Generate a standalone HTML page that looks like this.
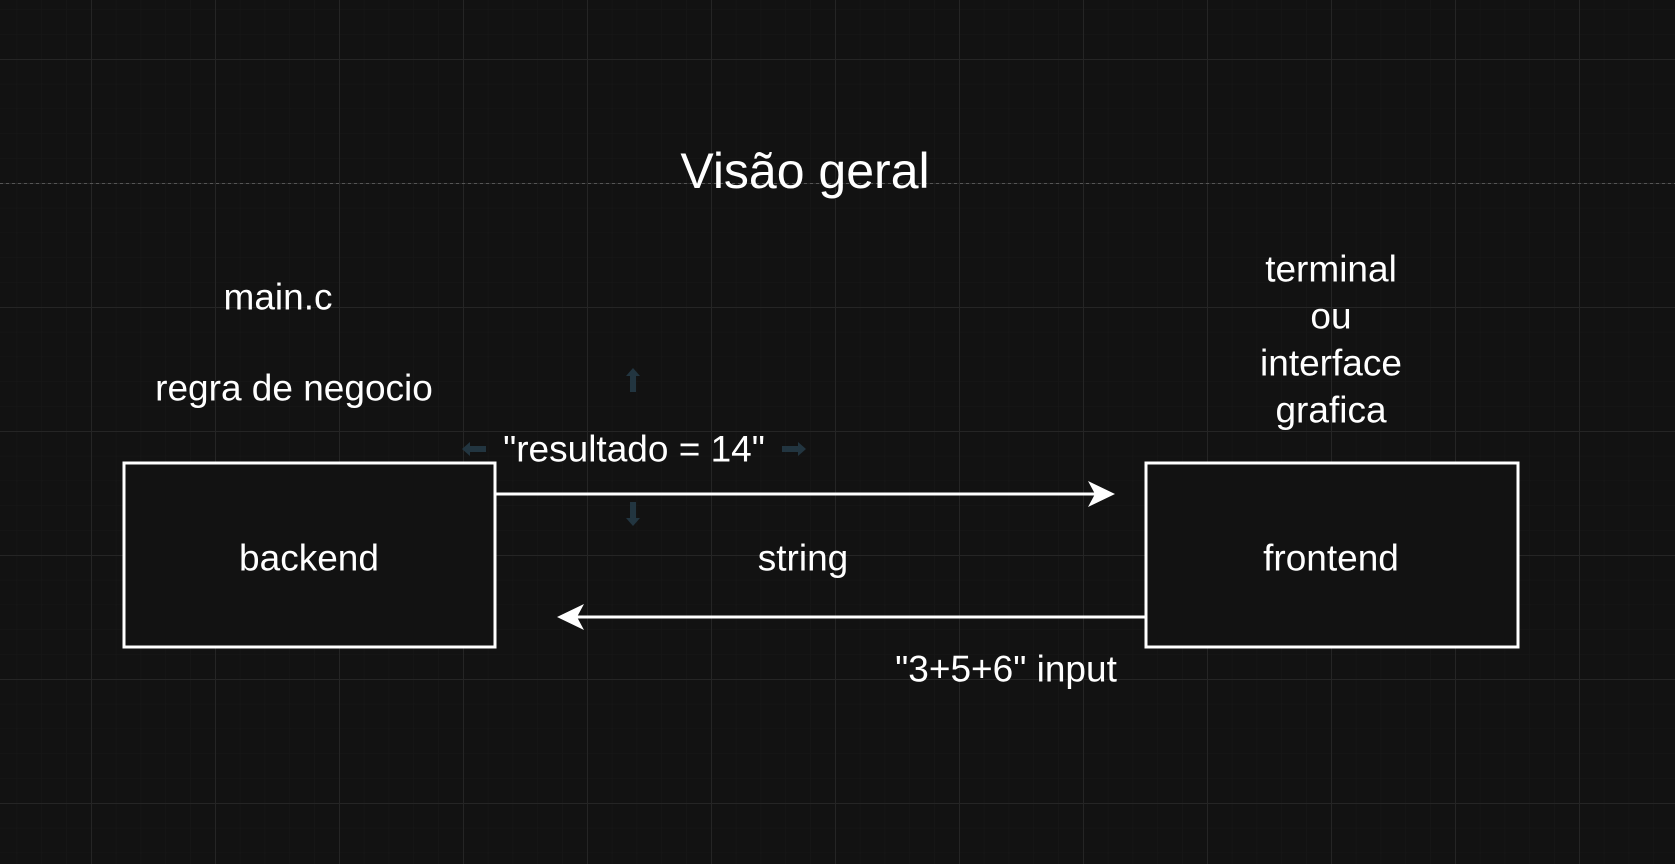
<!DOCTYPE html>
<html><head><style>
body{margin:0;background:#121212;width:1675px;height:864px;overflow:hidden;}
svg{display:block}
text{font-family:"Liberation Sans",Arial,sans-serif;fill:#fff;text-anchor:middle;dominant-baseline:central}
</style></head><body>
<svg width="1675" height="864" viewBox="0 0 1675 864">
<defs>
<pattern id="minor" x="91" y="59" width="24.8" height="24.8" patternUnits="userSpaceOnUse">
<path d="M0 0H24.8M0 0V24.8" stroke="#181818" stroke-width="1" fill="none"/>
</pattern>
<pattern id="major" x="91" y="59" width="124" height="124" patternUnits="userSpaceOnUse">
<path d="M0 0.5H124M0.5 0V124" stroke="#252525" stroke-width="1" fill="none"/>
</pattern>
</defs>
<rect width="1675" height="864" fill="url(#minor)"/>
<rect width="1675" height="864" fill="url(#major)"/>
<line x1="0" y1="183.5" x2="1675" y2="183.5" stroke="#555" stroke-dasharray="3,3"/>
<text x="805" y="171" font-size="50">Visão geral</text>
<text x="278" y="297" font-size="37">main.c</text>
<text x="294" y="388" font-size="37">regra de negocio</text>
<text x="1331" y="269" font-size="37">terminal</text>
<text x="1331" y="316" font-size="37">ou</text>
<text x="1331" y="363" font-size="37">interface</text>
<text x="1331" y="410" font-size="37">grafica</text>
<rect x="124" y="463" width="371" height="184" fill="#121212" stroke="#fff" stroke-width="3"/>
<rect x="1146" y="463" width="372" height="184" fill="#121212" stroke="#fff" stroke-width="3"/>
<text x="309" y="558" font-size="37">backend</text>
<text x="1331" y="558" font-size="37">frontend</text>
<text x="803" y="558" font-size="37">string</text>
<line x1="496" y1="494" x2="1105" y2="494" stroke="#fff" stroke-width="3"/>
<path d="M1088 481 L1115 494 L1088 507 L1095 494 Z" fill="#fff"/>
<line x1="1146" y1="617" x2="567" y2="617" stroke="#fff" stroke-width="3"/>
<path d="M584 604 L557 617 L584 630 L577 617 Z" fill="#fff"/>
<text x="634" y="449" font-size="37">"resultado = 14"</text>
<text x="1006" y="669" font-size="37">"3+5+6" input</text>
<g fill="#223540">
<path d="M633 368 L640 376 L636 376 L636 392 L630 392 L630 376 L626 376 Z"/>
<path d="M633 526 L640 518 L636 518 L636 502 L630 502 L630 518 L626 518 Z"/>
<path d="M462 449 L470 442 L470 446 L486 446 L486 452 L470 452 L470 456 Z"/>
<path d="M806 449 L798 442 L798 446 L782 446 L782 452 L798 452 L798 456 Z"/>
</g>
</svg>
</body></html>
